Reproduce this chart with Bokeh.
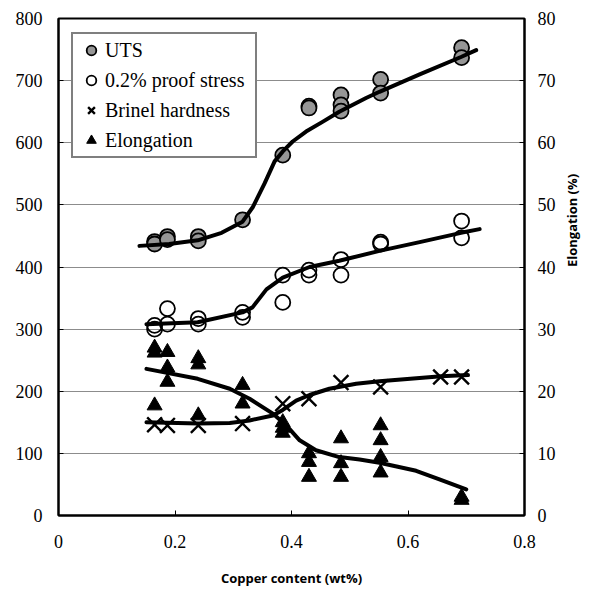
import math
from bokeh.plotting import figure
from bokeh.models import (Range1d, LinearAxis, FixedTicker, Legend, LegendItem,
                          ColumnDataSource)
from bokeh.embed import file_html
from bokeh.resources import INLINE

# ---------------- data ----------------
uts_x = [0.165, 0.165, 0.187, 0.187, 0.24, 0.24, 0.316, 0.385, 0.43, 0.43,
         0.485, 0.485, 0.485, 0.553, 0.553, 0.692, 0.692]
uts_y = [441, 437, 449, 444, 449, 442, 476, 580, 659, 656,
         677, 661, 651, 702, 680, 753, 737]

ps_x = [0.165, 0.165, 0.187, 0.187, 0.24, 0.24, 0.316, 0.316, 0.385, 0.385,
        0.43, 0.43, 0.485, 0.485, 0.553, 0.553, 0.692, 0.692]
ps_y = [306, 300, 333, 308, 317, 308, 327, 319, 387, 343,
        395, 387, 412, 387, 440, 437, 474, 447]

hb_x = [0.165, 0.187, 0.24, 0.316, 0.385, 0.43, 0.485, 0.553, 0.656, 0.692]
hb_y = [146, 145, 145, 148, 180, 188, 214, 207, 223, 223]

el_x = [0.165, 0.165, 0.165, 0.187, 0.187, 0.187, 0.24, 0.24, 0.24,
        0.316, 0.316, 0.385, 0.385, 0.385, 0.43, 0.43, 0.43,
        0.485, 0.485, 0.485, 0.553, 0.553, 0.553, 0.553, 0.692, 0.692]
el_y = [27.0, 26.2, 17.7, 26.3, 23.8, 21.5, 25.3, 24.3, 16.1,
        21.0, 18.0, 15.0, 14.1, 13.3, 10.0, 8.6, 6.2,
        12.4, 8.4, 6.2, 14.5, 12.1, 9.4, 6.9, 3.0, 2.5]

# fitted trend curves
uts_fit_x = [0.139, 0.19, 0.239, 0.28, 0.316, 0.334, 0.354, 0.371, 0.385, 0.402,
             0.425, 0.454, 0.482, 0.528, 0.551, 0.62, 0.691, 0.717]
uts_fit_y = [434, 437, 443, 455, 473, 497, 535, 570, 586, 602,
             618, 634, 650, 672, 682, 710, 738, 749]

ps_fit_x = [0.151, 0.239, 0.316, 0.333, 0.357, 0.385, 0.431, 0.482, 0.551, 0.62,
            0.691, 0.723]
ps_fit_y = [308, 311, 327, 335, 364, 383, 400, 410, 426, 440,
            455, 461]

hb_fit_x = [0.151, 0.24, 0.294, 0.328, 0.368, 0.385, 0.408, 0.431, 0.465, 0.511,
            0.551, 0.657, 0.703]
hb_fit_y = [150, 148, 149, 153, 161, 170, 185, 194, 204, 212,
            216, 224, 226]

el_fit_x = [0.151, 0.239, 0.294, 0.328, 0.368, 0.391, 0.414, 0.442, 0.482, 0.517,
            0.551, 0.614, 0.654, 0.7]
el_fit_y = [23.6, 22.0, 20.4, 18.8, 16.4, 14.5, 12.1, 10.5, 9.4, 9.0,
            8.5, 7.2, 5.8, 4.2]

x_ticks = [0, 0.2, 0.4, 0.6, 0.8]
x_tick_labels = ["0", "0.2", "0.4", "0.6", "0.8"]
y_ticks = [0, 100, 200, 300, 400, 500, 600, 700, 800]
el_ticks = [0, 10, 20, 30, 40, 50, 60, 70, 80]

series_labels = ["UTS", "0.2% proof stress", "Brinel hardness", "Elongation"]

# ---------------- figure ----------------
SERIF = "Liberation Serif"
SANS = "Open Sans"

p = figure(width=592, height=589, x_range=Range1d(0, 0.8), y_range=Range1d(0, 800),
           output_backend="svg", toolbar_location=None,
           min_border_left=58, min_border_right=67, min_border_top=18,
           min_border_bottom=73)
p.extra_y_ranges = {"el": Range1d(0, 80)}

p.outline_line_color = "black"
p.outline_line_width = 2
p.background_fill_color = "white"
p.border_fill_color = "white"

p.xgrid.visible = False
p.ygrid.grid_line_color = "#8c8c8c"
p.ygrid.grid_line_width = 1
p.ygrid.ticker = FixedTicker(ticks=y_ticks)

# bottom axis
xa = p.xaxis[0]
xa.ticker = FixedTicker(ticks=x_ticks)
xa.major_label_overrides = {t: l for t, l in zip(x_ticks, x_tick_labels)}
xa.axis_label = "Copper content (wt%)"

# left axis
ya = p.yaxis[0]
ya.ticker = FixedTicker(ticks=y_ticks)

# right axis
ra = LinearAxis(y_range_name="el", ticker=FixedTicker(ticks=el_ticks),
                axis_label="Elongation (%)")
p.add_layout(ra, "right")

for ax in (xa, ya, ra):
    ax.axis_line_color = "black"
    ax.axis_line_width = 2
    ax.major_tick_in = 5
    ax.major_tick_out = 0
    ax.major_tick_line_color = "black"
    ax.minor_tick_line_color = None
    ax.major_label_text_font = SERIF
    ax.major_label_text_font_size = "18px"
    ax.major_label_text_color = "black"
    ax.major_label_standoff = 16
    ax.axis_label_text_font = SANS
    ax.axis_label_text_font_style = "bold"
    ax.axis_label_text_font_size = "13px"
    ax.axis_label_text_color = "black"
xa.major_label_standoff = 19
xa.axis_label_standoff = 18
ra.axis_label_standoff = 13
ra.major_label_standoff = 13
ra.axis_label_orientation = math.pi / 2

# ---------------- markers ----------------
r_uts = p.scatter(uts_x, uts_y, marker="circle", size=15, fill_color="#969696",
                  line_color="black", line_width=1.8)
r_ps = p.scatter(ps_x, ps_y, marker="circle", size=15, fill_color="white",
                 fill_alpha=0, line_color="black", line_width=1.8)
r_hb = p.scatter(hb_x, hb_y, marker="x", size=21, line_color="black", line_width=2.4)
r_el = p.scatter(el_x, el_y, marker="triangle", size=15, fill_color="black",
                 line_color="black", y_range_name="el")

# ---------------- trend curves ----------------
for fx, fy, rng in [(uts_fit_x, uts_fit_y, "default"), (ps_fit_x, ps_fit_y, "default"),
                    (hb_fit_x, hb_fit_y, "default"), (el_fit_x, el_fit_y, "el")]:
    src = ColumnDataSource(dict(x=fx, y=fy))
    p.line("x", "y", source=src, line_color="black", line_width=4,
           line_join="round", line_cap="round", y_range_name=rng)

# ---------------- legend ----------------
legend = Legend(items=[LegendItem(label=l, renderers=[r])
                       for l, r in zip(series_labels, [r_uts, r_ps, r_hb, r_el])],
                location=(13, 357))
legend.label_text_font = SERIF
legend.label_text_font_size = "20px"
legend.label_text_color = "black"
legend.border_line_color = "black"
legend.border_line_width = 2
legend.background_fill_color = "white"
legend.background_fill_alpha = 1
legend.padding = 4
legend.margin = 0
legend.spacing = 6
legend.label_height = 24
legend.glyph_height = 24
legend.glyph_width = 28
legend.label_standoff = 0
legend.label_width = 146
p.add_layout(legend, "center")

open("out.html", "w").write(file_html(p, INLINE))
